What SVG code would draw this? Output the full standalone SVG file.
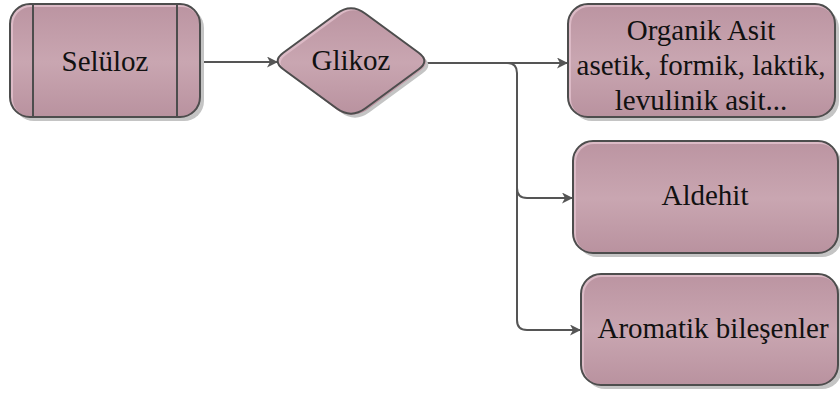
<svg xmlns="http://www.w3.org/2000/svg" width="840" height="394" viewBox="0 0 840 394">
  <defs>
    <linearGradient id="fillGrad" x1="0" y1="0" x2="0" y2="1">
      <stop offset="0" stop-color="#bc95a2"/>
      <stop offset="0.5" stop-color="#c9a6b1"/>
      <stop offset="1" stop-color="#b9929f"/>
    </linearGradient>
    <marker id="arrow" viewBox="0 0 11 11" refX="10" refY="5.5" markerWidth="11" markerHeight="11" markerUnits="userSpaceOnUse" orient="auto">
      <path d="M0,0 L11,5.5 L0,11 L3,5.5 Z" fill="#555"/>
    </marker>
  </defs>
  <style>
    .shadow { fill: #c4c4c4; }
    .hl { fill: #dcbac6; }
    .body { fill: url(#fillGrad); }
    .outline { fill: none; stroke: #4d4d4d; stroke-width: 2; }
    .label { font-size: 29px; fill: #111; text-anchor: middle; }
    .conn { fill: none; stroke: #555; stroke-width: 2; }
  </style>

  <rect width="840" height="394" fill="#ffffff"/>

  <!-- connectors -->
  <g id="connectors">
    <path class="conn" d="M200,62 H277" marker-end="url(#arrow)"/>
    <path class="conn" d="M424,63 H567" marker-end="url(#arrow)"/>
    <path class="conn" d="M424,63 H507 Q517,63 517,73 V188 Q517,198 527,198 H572" marker-end="url(#arrow)"/>
    <path class="conn" d="M517,188 V320 Q517,330 527,330 H580" marker-end="url(#arrow)"/>
  </g>

  <g font-family="'Liberation Serif', 'DejaVu Serif', serif">
  <!-- predefined-process node -->
  <g id="seluloz">
    <rect class="shadow" x="14" y="8" width="190" height="113" rx="20"/>
    <rect class="hl" x="10" y="4" width="190" height="113" rx="20"/>
    <rect class="body" x="13" y="7" width="187" height="110" rx="18"/>
    <rect class="outline" x="10" y="4" width="190" height="113" rx="20"/>
    <line class="outline" x1="33" y1="4" x2="33" y2="117"/>
    <line class="outline" x1="177" y1="4" x2="177" y2="117"/>
    <text class="label" x="105" y="71">Selüloz</text>
  </g>

  <!-- decision node -->
  <g id="glikoz">
    <path class="shadow" transform="translate(4,4)" d="M283.3,52.7 L336.5,13.7 Q351,3 365.5,13.7 L418.7,52.7 Q430,61 418.7,69.3 L365.5,108.3 Q351,119 336.5,108.3 L283.3,69.3 Q272,61 283.3,52.7 Z"/>
    <path class="hl" d="M283.3,52.7 L336.5,13.7 Q351,3 365.5,13.7 L418.7,52.7 Q430,61 418.7,69.3 L365.5,108.3 Q351,119 336.5,108.3 L283.3,69.3 Q272,61 283.3,52.7 Z"/>
    <path class="body" transform="translate(3,2)" d="M283.3,52.7 L336.5,13.7 Q351,3 365.5,13.7 L418.7,52.7 Q428,61 416.7,69.3 L363.5,108.3 Q349,117 334.5,108.3 L283.3,69.3 Q272,61 283.3,52.7 Z"/>
    <path class="outline" d="M283.3,52.7 L336.5,13.7 Q351,3 365.5,13.7 L418.7,52.7 Q430,61 418.7,69.3 L365.5,108.3 Q351,119 336.5,108.3 L283.3,69.3 Q272,61 283.3,52.7 Z"/>
    <text class="label" x="351" y="70">Glikoz</text>
  </g>

  <g id="organik-asit">
    <rect class="shadow" x="572" y="8" width="267" height="113" rx="20"/>
    <rect class="hl" x="568" y="4" width="267" height="113" rx="20"/>
    <rect class="body" x="571" y="7" width="264" height="110" rx="18"/>
    <rect class="outline" x="568" y="4" width="267" height="113" rx="20"/>
    <text class="label" x="701" y="40">Organik Asit</text>
    <text class="label" x="701" y="75">asetik, formik, laktik,</text>
    <text class="label" x="701" y="110">levulinik asit...</text>
  </g>

  <g id="aldehit">
    <rect class="shadow" x="577" y="145" width="265" height="112" rx="20"/>
    <rect class="hl" x="573" y="141" width="265" height="112" rx="20"/>
    <rect class="body" x="576" y="144" width="262" height="109" rx="18"/>
    <rect class="outline" x="573" y="141" width="265" height="112" rx="20"/>
    <text class="label" x="705" y="205">Aldehit</text>
  </g>

  <g id="aromatik">
    <rect class="shadow" x="585" y="278" width="257" height="111" rx="20"/>
    <rect class="hl" x="581" y="274" width="257" height="111" rx="20"/>
    <rect class="body" x="584" y="277" width="254" height="108" rx="18"/>
    <rect class="outline" x="581" y="274" width="257" height="111" rx="20"/>
    <text class="label" x="713" y="338">Aromatik bileşenler</text>
  </g>
  </g>
</svg>
